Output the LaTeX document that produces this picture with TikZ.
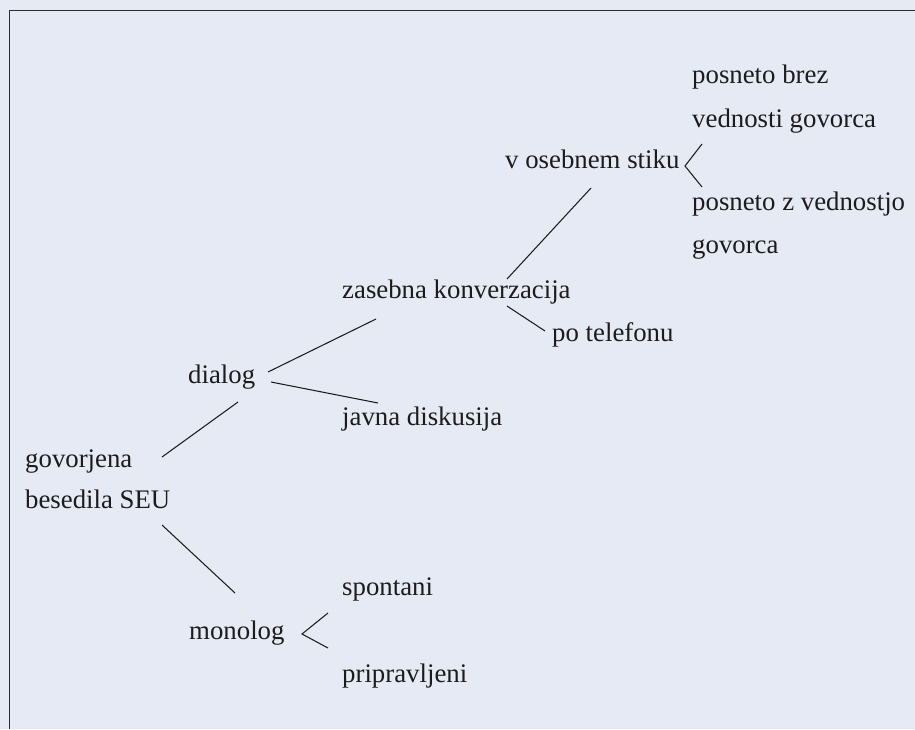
\documentclass[tikz,border=0pt]{standalone}
\usepackage{fontspec}
\setmainfont{Liberation Serif}
\definecolor{bgc}{RGB}{229,234,244}
\definecolor{framec}{RGB}{45,45,48}
\definecolor{txtc}{RGB}{30,27,28}
\begin{document}
\begin{tikzpicture}[x=1pt,y=-1pt,
  lbl/.style={anchor=base west,inner sep=0pt,font=\fontsize{26.8}{30}\selectfont,text=txtc},
  conn/.style={draw=txtc,line width=1.05pt}]
\useasboundingbox (0,0) rectangle (915,729);
\fill[bgc] (0,0) rectangle (915,729);
\draw[framec,line width=1.6pt] (9.5,729) -- (9.5,10.5) -- (915,10.5);
% nodes
\node[lbl] (pb1) at (692,83) {posneto brez};
\node[lbl] (pb2) at (692,127) {vednosti govorca};
\node[lbl] (vos) at (505,168) {v osebnem stiku};
\node[lbl] (pz1) at (692,210) {posneto z vednostjo};
\node[lbl] (pz2) at (692,253) {govorca};
\node[lbl] (zas) at (342,298) {zasebna konverzacija};
\node[lbl] (tel) at (552,341) {po telefonu};
\node[lbl] (dia) at (188,383) {dialog};
\node[lbl] (jav) at (342,425) {javna diskusija};
\node[lbl] (gov) at (25,467) {govorjena};
\node[lbl] (bes) at (25,508) {besedila SEU};
\node[lbl] (spo) at (342,595) {spontani};
\node[lbl] (mon) at (189,639) {monolog};
\node[lbl] (pri) at (342,682) {pripravljeni};
% connector end points
\coordinate (vosA) at (685,166);
\coordinate (vosU) at (702,144);
\coordinate (vosL) at (702,187);
\coordinate (zasV) at (507,279);
\coordinate (vosZ) at (591,188);
\coordinate (zasT) at (507,306);
\coordinate (telZ) at (545,331);
\coordinate (diaZ) at (268,372);
\coordinate (zasD) at (376,319);
\coordinate (diaJ) at (271,382);
\coordinate (javD) at (378,403);
\coordinate (govD) at (162,457);
\coordinate (diaG) at (238,402);
\coordinate (besM) at (162,525);
\coordinate (monB) at (235,593);
\coordinate (monA) at (302,634);
\coordinate (monU) at (328,613);
\coordinate (monL) at (328,648);
% connectors
\draw[conn] (vosU) -- (vosA) -- (vosL);
\draw[conn] (zasV) -- (vosZ);
\draw[conn] (zasT) -- (telZ);
\draw[conn] (diaZ) -- (zasD);
\draw[conn] (diaJ) -- (javD);
\draw[conn] (govD) -- (diaG);
\draw[conn] (besM) -- (monB);
\draw[conn] (monU) -- (monA) -- (monL);
\end{tikzpicture}
\end{document}
